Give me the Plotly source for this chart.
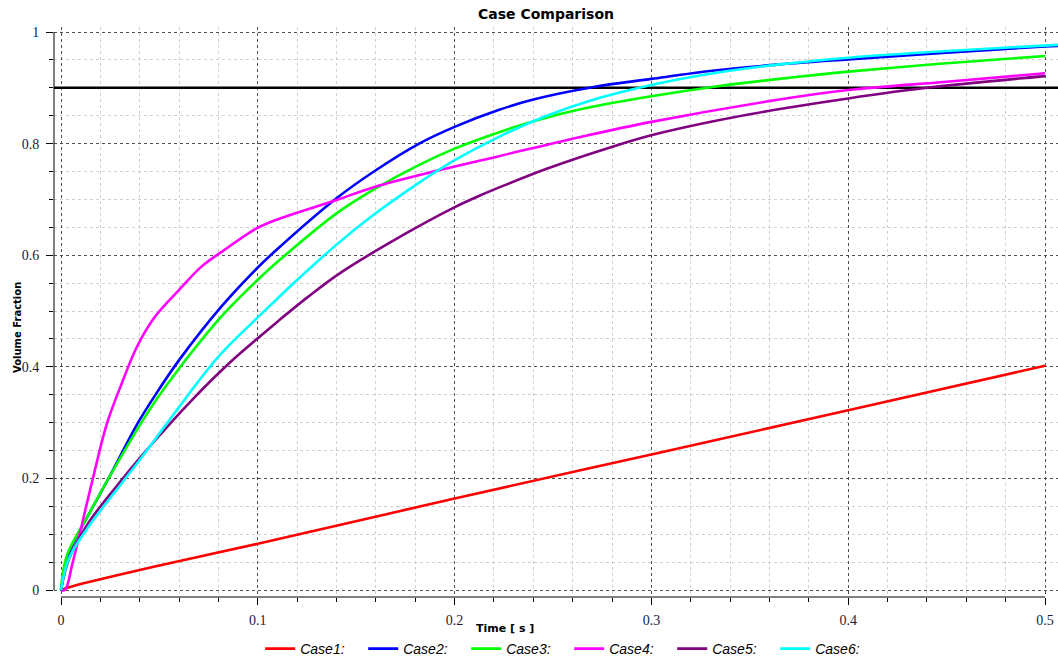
import plotly.graph_objects as go

# ---- data: volume fraction vs time for each case ----
t_case1 = [0, 0.005, 0.05, 0.1, 0.2, 0.3, 0.4, 0.5]
v_case1 = [0, 0.006, 0.044, 0.083, 0.164, 0.243, 0.322, 0.402]

t_case2 = [0, 0.004, 0.014, 0.024, 0.039, 0.048, 0.06, 0.082, 0.1, 0.109, 0.14,
           0.159, 0.182, 0.2, 0.223, 0.24, 0.27, 0.3, 0.332, 0.365, 0.4, 0.45,
           0.5, 0.5066]
v_case2 = [0, 0.066, 0.135, 0.199, 0.299, 0.35, 0.412, 0.51, 0.578, 0.608, 0.702,
           0.75, 0.80, 0.83, 0.861, 0.879, 0.901, 0.916, 0.931, 0.942, 0.951, 0.963,
           0.974, 0.975]

t_case3 = [0, 0.003, 0.014, 0.024, 0.04, 0.049, 0.06, 0.082, 0.1, 0.109,
           0.14, 0.159, 0.182, 0.2, 0.223, 0.247, 0.27, 0.3, 0.332, 0.365, 0.4, 0.45, 0.5]
v_case3 = [0, 0.062, 0.135, 0.199, 0.295, 0.344, 0.397, 0.492, 0.556, 0.585,
           0.675, 0.718, 0.762, 0.791, 0.821, 0.847, 0.866, 0.885, 0.902, 0.916, 0.929,
           0.944, 0.957]

t_case4 = [0, 0.002, 0.006, 0.016, 0.0234, 0.0315, 0.0386, 0.0478, 0.06, 0.0715,
           0.082, 0.0994, 0.109, 0.14, 0.159, 0.193, 0.223, 0.264, 0.3, 0.365, 0.4,
           0.45, 0.5]
v_case4 = [0, 0.0, 0.05, 0.197, 0.299, 0.376, 0.436, 0.49, 0.538, 0.58,
           0.607, 0.648, 0.663, 0.699, 0.722, 0.753, 0.778, 0.812, 0.839, 0.879, 0.896,
           0.911, 0.926]

t_case5 = [0, 0.004, 0.0139, 0.0308, 0.0478, 0.0664, 0.085, 0.0986, 0.11, 0.125,
           0.1418, 0.1757, 0.1994, 0.2129, 0.223, 0.2468, 0.2806, 0.3, 0.3315, 0.3653,
           0.4, 0.44, 0.5]
v_case5 = [0, 0.055, 0.12, 0.197, 0.268, 0.34, 0.405, 0.447, 0.481, 0.524,
           0.568, 0.64, 0.685, 0.707, 0.722, 0.755, 0.795, 0.815, 0.84, 0.862,
           0.881, 0.9, 0.921]

t_case6 = [0, 0.0037, 0.0139, 0.0308, 0.04, 0.0478, 0.0613, 0.0698, 0.0817, 0.0986,
           0.1087, 0.1198, 0.14, 0.1587, 0.1824, 0.1994, 0.223, 0.2468, 0.2688, 0.3,
           0.3315, 0.3653, 0.4, 0.45, 0.5066]
v_case6 = [0, 0.054, 0.113, 0.191, 0.233, 0.27, 0.334, 0.374, 0.425, 0.484,
           0.518, 0.555, 0.619, 0.672, 0.731, 0.769, 0.813, 0.85, 0.877, 0.905,
           0.926, 0.942, 0.954, 0.966, 0.977]

case_names = ["Case1:", "Case2:", "Case3:", "Case4:", "Case5:", "Case6:"]
case_colors = ["#ff0000", "#0000ff", "#00ff00", "#ff00ff", "#800080", "#00ffff"]
series_t = [t_case1, t_case2, t_case3, t_case4, t_case5, t_case6]
series_v = [v_case1, v_case2, v_case3, v_case4, v_case5, v_case6]

threshold = 0.9
x_range = [-0.00356, 0.5066]
y_range = [-0.0125, 1.009]

x_ticks = [0, 0.1, 0.2, 0.3, 0.4, 0.5]
x_tick_text = ["0", "0.1", "0.2", "0.3", "0.4", "0.5"]
y_ticks = [0, 0.2, 0.4, 0.6, 0.8, 1.0]
y_tick_text = ["0", "0.2", "0.4", "0.6", "0.8", "1"]

fig = go.Figure()

# horizontal threshold line, drawn beneath the case curves
fig.add_trace(go.Scatter(
    x=x_range, y=[threshold, threshold], mode="lines", showlegend=False,
    hoverinfo="skip", line=dict(color="#000", width=2.6),
))

for name, color, tt, vv in zip(case_names, case_colors, series_t, series_v):
    fig.add_trace(go.Scatter(
        x=tt, y=vv, mode="lines", name=name,
        line=dict(color=color, width=2.6, shape="spline", smoothing=1.0),
    ))

tick_font = dict(family="Liberation Serif", size=14, color="#1a1a3a")

fig.update_xaxes(
    range=x_range,
    tickmode="array", tickvals=x_ticks, ticktext=x_tick_text,
    ticks="outside", ticklen=7, tickcolor="#000", tickwidth=1,
    tickfont=tick_font, ticklabelstandoff=3,
    showline=False, zeroline=False,
    showgrid=True, gridcolor="#505050", griddash="dot", gridwidth=1,
    minor=dict(dtick=0.02, tick0=0, ticks="outside", ticklen=4, tickcolor="#000",
               showgrid=True, gridcolor="#cfcfcf", griddash="dot", gridwidth=1),
)
fig.update_yaxes(
    range=y_range,
    tickmode="array", tickvals=y_ticks, ticktext=y_tick_text,
    ticks="outside", ticklen=7, tickcolor="#000", tickwidth=1,
    tickfont=tick_font, ticklabelstandoff=4,
    showline=False, zeroline=False,
    showgrid=True, gridcolor="#505050", griddash="dot", gridwidth=1,
    minor=dict(dtick=0.05, tick0=0, ticks="outside", ticklen=4, tickcolor="#000",
               showgrid=True, gridcolor="#cfcfcf", griddash="dot", gridwidth=1),
)

# axis lines spanning the data range only
fig.add_shape(type="line", xref="x", yref="paper", x0=0, x1=0.5, y0=0, y1=0,
              line=dict(color="#000", width=1))
fig.add_shape(type="line", xref="paper", yref="y", x0=0, x1=0, y0=0, y1=1,
              line=dict(color="#000", width=1))

fig.update_layout(
    width=1058, height=662,
    margin=dict(l=54, r=0, t=27, b=65),
    paper_bgcolor="white", plot_bgcolor="white",
    showlegend=True,
    legend=dict(orientation="h", xref="container", yref="container",
                x=0.538, y=0.0196, xanchor="center", yanchor="middle",
                font=dict(family="Liberation Sans", size=14, color="#000", style="italic"),
                itemwidth=30, entrywidth=58, entrywidthmode="pixels", tracegroupgap=0),
    annotations=[
        dict(text="<b>Case Comparison</b>", xref="paper", yref="paper",
             x=(546 - 54) / 1004, y=1 + 13 / 570, xanchor="center", yanchor="middle",
             showarrow=False, font=dict(family="DejaVu Sans", size=14, color="#000")),
        dict(text="<b>Time [ s ]</b>", xref="paper", yref="paper",
             x=(505 - 54) / 1004, y=-31 / 570, xanchor="center", yanchor="middle",
             showarrow=False, font=dict(family="DejaVu Sans", size=11, color="#000")),
        dict(text="<b>Volume Fraction</b>", xref="paper", yref="paper",
             x=-37 / 1004, y=(597 - 328) / 570, xanchor="center", yanchor="middle",
             textangle=-90, showarrow=False,
             font=dict(family="DejaVu Sans", size=10, color="#000")),
    ],
)

fig.write_html("out.html")
